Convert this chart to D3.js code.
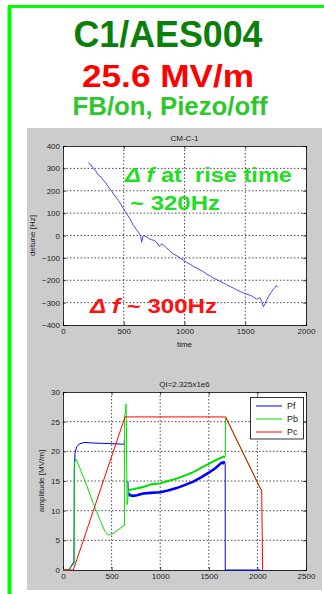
<!DOCTYPE html>
<html>
<head>
<meta charset="utf-8">
<script src="https://cdn.jsdelivr.net/npm/d3@7"></script>
<style>
  body { margin: 0; background: #fff; }
  text { font-family: "Liberation Sans", Arial, sans-serif; }
</style>
</head>
<body>
<div class="chart"></div>
<script>
// detune trace (top plot)
const detuneTime = [208, 230, 250, 270, 291, 312, 332, 352, 373, 394, 414, 435, 455, 476, 497, 524, 551, 579, 606, 628, 640, 647, 661, 675, 689, 710, 730, 750, 771, 793, 812, 830, 853, 880, 908, 935, 963, 990, 1018, 1045, 1073, 1100, 1128, 1155, 1182, 1210, 1237, 1265, 1292, 1320, 1347, 1375, 1402, 1430, 1457, 1485, 1512, 1533, 1553, 1575, 1594, 1608, 1621, 1635, 1649, 1662, 1676, 1690, 1703, 1718, 1731, 1745, 1753, 1767];
const detuneHz   = [325, 315, 300, 288, 270, 262, 247, 235, 217, 203, 187, 172, 157, 140, 120, 97, 75, 45, 25, 10, -5, -30, 0, -3, -7, -15, -19, -22, -30, -49, -37, -45, -55, -70, -82, -90, -100, -110, -120, -128, -139, -145, -154, -162, -172, -180, -190, -197, -205, -212, -220, -228, -235, -243, -250, -257, -262, -266, -270, -278, -285, -282, -277, -295, -318, -305, -289, -275, -262, -250, -240, -232, -225, -230];
const detuneXTicks = [0, 500, 1000, 1500, 2000];
const detuneYTicks = [-400, -300, -200, -100, 0, 100, 200, 300, 400];

// amplitude traces (bottom plot)
const pfTime = [0, 60, 89, 113, 117, 123, 141, 175, 226, 312, 483, 628, 631, 631, null, 668, 672, 689, 720, 760, 826, 900, 998, 1080, 1169, 1250, 1341, 1420, 1500, 1570, 1632, 1650, 1660, 1669, 1669, 2030];
const pfAmp  = [0, 0, 0.8, 1.4, 17, 19.7, 20.8, 21.3, 21.5, 21.4, 21.3, 21.2, 21.2, 21.9, null, 15, 12.9, 12.6, 12.5, 12.6, 12.9, 13.0, 13.1, 13.4, 13.8, 14.3, 14.9, 15.6, 16.4, 17.2, 18.1, 18.0, 18.3, 17.8, 0, 0];
const pbTime = [0, 60, 89, 113, 116, 116, 134, 175, 243, 312, 381, 432, 466, 518, 586, 628, 632, 632, 645, 648, 652, 659, 665, 675, 720, 826, 900, 998, 1080, 1169, 1250, 1341, 1420, 1500, 1570, 1650, 1665, 1669, 1673, 2044];
const pbAmp  = [0, 0, 0.6, 1.0, 1.2, 18, 18.7, 17.1, 14.3, 11.2, 8.4, 6.5, 5.9, 6.2, 7.0, 7.5, 7.5, 26, 26.6, 28, 25, 11, 11.5, 13.5, 13.6, 14.0, 14.4, 14.6, 15.0, 15.4, 15.9, 16.5, 17.2, 17.9, 18.5, 19.1, 19.0, 19.3, 25.7, 13.3];
const pcTime = [0, 106, 638, 1673, 2044, 2054];
const pcAmp  = [0, 0, 25.8, 25.8, 13.3, 0];
const ampXTicks = [0, 500, 1000, 1500, 2000, 2500];
const ampYTicks = [0, 5, 10, 15, 20, 25, 30];
const legendNames = ["Pf", "Pb", "Pc"];
const legendColors = ["#0000ff", "#00e000", "#ff0000"];

const W = 324, H = 594;
const svg = d3.select(".chart").append("svg")
    .attr("width", W).attr("height", H);

// green frame
svg.append("line").attr("x1", 9.5).attr("y1", 6).attr("x2", 9.5).attr("y2", H)
    .attr("stroke", "#00ff00").attr("stroke-width", 4);
svg.append("line").attr("x1", 8).attr("y1", 6.5).attr("x2", W).attr("y2", 6.5)
    .attr("stroke", "#00ff00").attr("stroke-width", 3);

// headings
svg.append("text").attr("x", 168).attr("y", 47).attr("text-anchor", "middle")
    .attr("font-size", 37).attr("font-weight", "bold").attr("fill", "#0a800a")
    .attr("textLength", 189).attr("lengthAdjust", "spacingAndGlyphs")
    .text("C1/AES004");
svg.append("text").attr("x", 168).attr("y", 87).attr("text-anchor", "middle")
    .attr("font-size", 31).attr("font-weight", "bold").attr("fill", "#ff0000")
    .attr("textLength", 172).attr("lengthAdjust", "spacingAndGlyphs")
    .text("25.6 MV/m");
svg.append("text").attr("x", 170).attr("y", 115).attr("text-anchor", "middle")
    .attr("font-size", 25).attr("font-weight", "bold").attr("fill", "#2ec82e")
    .attr("textLength", 195).attr("lengthAdjust", "spacingAndGlyphs")
    .text("FB/on, Piezo/off");

// gray figure background
svg.append("rect").attr("x", 27).attr("y", 128).attr("width", 295).attr("height", 462)
    .attr("fill", "#cccccc");

function drawAxes(x, y, xTicks, yTicks, title, xlabel, ylabel, ylabelX) {
    const [x0, x1] = x.range();
    const [y0, y1] = y.range(); // y0 bottom, y1 top
    const g = svg.append("g");
    g.append("rect").attr("x", x0).attr("y", y1).attr("width", x1 - x0).attr("height", y0 - y1)
        .attr("fill", "#fff");
    // grid
    g.selectAll(".gx").data(xTicks.slice(1, -1)).enter().append("line")
        .attr("x1", d => x(d)).attr("x2", d => x(d)).attr("y1", y1).attr("y2", y0)
        .attr("stroke", "#000").attr("stroke-width", 0.7).attr("stroke-dasharray", "1.5,2");
    g.selectAll(".gy").data(yTicks.slice(1, -1)).enter().append("line")
        .attr("y1", d => y(d)).attr("y2", d => y(d)).attr("x1", x0).attr("x2", x1)
        .attr("stroke", "#000").attr("stroke-width", 0.7).attr("stroke-dasharray", "1.5,2");

    const fmt = d3.format("d");
    g.append("g").attr("transform", `translate(0,${y0})`)
        .call(d3.axisBottom(x).tickValues(xTicks).tickFormat(fmt).tickSize(-3).tickPadding(3));
    g.append("g").attr("transform", `translate(${x0},0)`)
        .call(d3.axisLeft(y).tickValues(yTicks).tickFormat(fmt).tickSize(-3).tickPadding(3));
    g.append("g").attr("transform", `translate(0,${y1})`)
        .call(d3.axisTop(x).tickValues(xTicks).tickSize(-3).tickFormat(""));
    g.append("g").attr("transform", `translate(${x1},0)`)
        .call(d3.axisRight(y).tickValues(yTicks).tickSize(-3).tickFormat(""));
    g.selectAll(".domain").attr("stroke", "#000").attr("stroke-width", 0.8);
    g.selectAll(".tick line").attr("stroke", "#000").attr("stroke-width", 0.7);
    g.selectAll(".tick text").attr("font-size", 8).attr("fill", "#222")
        .attr("font-family", "'Liberation Sans', Arial, sans-serif");

    g.append("text").attr("x", (x0 + x1) / 2).attr("y", y1 - 5).attr("text-anchor", "middle")
        .attr("font-size", 8).attr("fill", "#222").text(title);
    if (xlabel) {
        g.append("text").attr("x", (x0 + x1) / 2).attr("y", y0 + 22).attr("text-anchor", "middle")
            .attr("font-size", 8).attr("fill", "#222").text(xlabel);
    }
    g.append("text").attr("transform", `translate(${ylabelX},${(y0 + y1) / 2}) rotate(-90)`)
        .attr("text-anchor", "middle").attr("font-size", 8).attr("fill", "#222").text(ylabel);
    return g;
}

// ---- top plot: detune ----
const x1s = d3.scaleLinear().domain([0, 2000]).range([63, 306]);
const y1s = d3.scaleLinear().domain([-400, 400]).range([325, 146]);
drawAxes(x1s, y1s, detuneXTicks, detuneYTicks, "CM-C-1", "time", "detune [Hz]", 35);

const detuneLine = d3.line().x((d, i) => x1s(detuneTime[i])).y(d => y1s(d));
svg.append("path").datum(detuneHz).attr("d", detuneLine)
    .attr("fill", "none").attr("stroke", "#3333ff").attr("stroke-width", 0.9);

function note(xp, yp, len, color, parts) {
    const t = svg.append("text").attr("x", xp).attr("y", yp)
        .attr("font-size", 21).attr("font-weight", "bold").attr("fill", color)
        .attr("textLength", len).attr("lengthAdjust", "spacingAndGlyphs")
        .attr("xml:space", "preserve");
    parts.forEach(p => t.append("tspan").attr("font-style", p[1] ? "italic" : "normal").text(p[0]));
}
note(125, 182, 167, "#22dd22", [["\u0394 f", true], [" at  rise time", false]]);
note(130, 210, 90, "#22dd22", [["~ 320Hz", false]]);
note(90, 313, 127, "#ff1111", [["\u0394 f", true], [" ~ 300Hz", false]]);

// ---- bottom plot: amplitudes ----
const x2s = d3.scaleLinear().domain([0, 2500]).range([63, 306]);
const y2s = d3.scaleLinear().domain([0, 30]).range([570, 392]);
drawAxes(x2s, y2s, ampXTicks, ampYTicks, "QI=2.325x1e6", null, "amplitude [MV/m]", 44);

function series(times, amps) {
    return amps.map((a, i) => ({ t: times[i], a: a }));
}
const ampLine = d3.line()
    .defined(d => d.t !== null && d.a !== null)
    .x(d => x2s(d.t)).y(d => y2s(d.a));

const pf = series(pfTime, pfAmp), pb = series(pbTime, pbAmp), pc = series(pcTime, pcAmp);
[[pf, 0], [pb, 1], [pc, 2]].forEach(([s, k]) => {
    svg.append("path").datum(s).attr("d", ampLine)
        .attr("fill", "none").attr("stroke", legendColors[k]).attr("stroke-width", 1);
    // noisy flat-top part drawn thicker
    if (k < 2) {
        svg.append("path").datum(s.filter(d => d.t !== null && d.t >= 672 && d.t <= 1665))
            .attr("d", ampLine).attr("fill", "none").attr("stroke", legendColors[k])
            .attr("stroke-width", k === 0 ? 2.6 : 2.0);
    }
});

// legend
const lg = svg.append("g");
lg.append("rect").attr("x", 250.5).attr("y", 397.5).attr("width", 53).attr("height", 41.5)
    .attr("fill", "#fff").attr("stroke", "#000").attr("stroke-width", 0.8);
legendNames.forEach((n, i) => {
    const yy = 406 + i * 13;
    lg.append("line").attr("x1", 256).attr("x2", 282).attr("y1", yy).attr("y2", yy)
        .attr("stroke", legendColors[i]).attr("stroke-width", 1);
    lg.append("text").attr("x", 287).attr("y", yy + 3).attr("font-size", 9)
        .attr("fill", "#222").text(n);
});
</script>
</body>
</html>
